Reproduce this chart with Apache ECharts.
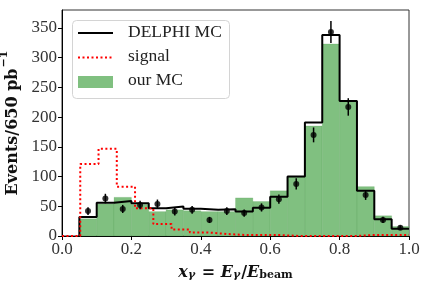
<!DOCTYPE html>
<html>
<head>
<meta charset="utf-8">
<script src="https://cdn.jsdelivr.net/npm/echarts@6/dist/echarts.min.js"></script>
<style>html,body{margin:0;padding:0;background:#fff;}#c{width:427px;height:289px;}</style>
</head>
<body>
<div id="c"></div>
<script>
// Bin edges for DELPHI MC / our MC / data (width 0.05)
var binEdges = [0.05,0.10,0.15,0.20,0.25,0.30,0.35,0.40,0.45,0.50,0.55,0.60,0.65,0.70,0.75,0.80,0.85,0.90,0.95,1.00];
var delphiMC = [32,56,59,55,46.6,49.4,46,44,45,41,47.7,66,100,191,338,227,76,28,12];
var ourMC    = [29,54,65,53,41,44,42.5,41,41,64,58,76,99,185,323,226,83,34,16];
var dataVals = [42,63,45.5,52,54,41,44,27,42,38.5,48,62,87.5,170,343,217,69,27,14];
var dataErr  = [6.5,8,6.8,7.2,7.3,6.4,6.6,5.2,6.5,6.2,6.9,7.9,9.4,12.5,18.5,14.7,8.3,5.2,3.8];
// Signal histogram (19 bins on [0,1])
var sigEdges = [0,0.0526,0.1053,0.1579,0.2105,0.2632,0.3158,0.3684,0.4211,0.4737,0.5263,0.5789,0.6316,0.6842,0.7368,0.7895,0.8421,0.8947,0.9474,1.0];
var signal   = [0,121,146.5,83,46.6,20,11,6,3.4,1.7,1.5,1.5,0,0,0,0,1.5,1.5,1.5];
var xTicks = [0,0.2,0.4,0.6,0.8,1.0];
var yTicks = [0,50,100,150,200,250,300,350];

function stepPath(edges, vals){
  var p = [[edges[0],0]];
  for (var i=0;i<vals.length;i++){ p.push([edges[i],vals[i]]); p.push([edges[i+1],vals[i]]); }
  return p;
}
var greenData = ourMC.map(function(v,i){return [binEdges[i],binEdges[i+1],v];});
var pts = dataVals.map(function(v,i){return [(binEdges[i]+binEdges[i+1])/2, v, dataErr[i]];});

var SERIF = '"Liberation Serif","DejaVu Serif",serif';
var WIDE = '"DejaVu Serif",serif';
var chart = echarts.init(document.getElementById('c'), null, {renderer:'canvas'});
chart.setOption({
  animation:false,
  grid:{left:62,right:18,top:10,bottom:53,containLabel:false,outerBoundsMode:'none',show:true,borderColor:'#333',borderWidth:1,backgroundColor:'transparent'},
  xAxis:{type:'value',min:0,max:1,interval:0.2,
    axisLine:{show:true,lineStyle:{color:'#000',width:1}},
    axisTick:{show:true,inside:false,length:4,lineStyle:{color:'#000'}},
    splitLine:{show:false},
    axisLabel:{color:'#333',fontFamily:SERIF,fontSize:17,margin:5,formatter:function(v){return v.toFixed(1);}},
    name:'{bi|x}{sub|γ}{b| = }{bi|E}{sub|γ}{b|/}{bi|E}{subb|beam}',
    nameLocation:'middle',nameGap:23,
    nameTextStyle:{rich:{
      bi:{fontFamily:WIDE,fontStyle:'italic',fontWeight:'bold',fontSize:16,color:'#111',verticalAlign:'bottom',lineHeight:22},
      b:{fontFamily:WIDE,fontWeight:'bold',fontSize:16,color:'#111',verticalAlign:'bottom',lineHeight:22},
      sub:{fontFamily:WIDE,fontStyle:'italic',fontWeight:'bold',fontSize:11,color:'#111',verticalAlign:'bottom',lineHeight:12,padding:[0,1,0,0]},
      subb:{fontFamily:WIDE,fontWeight:'bold',fontSize:11,color:'#111',verticalAlign:'bottom',lineHeight:12}
    }}
  },
  yAxis:{type:'value',min:0,max:380,interval:50,
    axisLine:{show:true,lineStyle:{color:'#000',width:1}},
    axisTick:{show:true,inside:false,length:4,lineStyle:{color:'#000'},customValues:yTicks},
    splitLine:{show:false},
    axisLabel:{color:'#333',fontFamily:SERIF,fontSize:17,margin:5,customValues:yTicks},
    name:'{b|Events/650 pb}{sup|−1}',
    nameLocation:'middle',nameGap:34,
    nameTextStyle:{rich:{
      b:{fontFamily:WIDE,fontWeight:'bold',fontSize:16,color:'#111',verticalAlign:'bottom',lineHeight:22},
      sup:{fontFamily:WIDE,fontWeight:'bold',fontSize:11,color:'#111',verticalAlign:'top',lineHeight:22,padding:[0,0,0,1]}
    }}
  },
  series:[
    {type:'custom',name:'our MC',data:greenData,z:1,
      renderItem:function(params,api){
        var a=api.coord([api.value(0),api.value(2)]);
        var b=api.coord([api.value(1),0]);
        return {type:'rect',shape:{x:a[0],y:a[1],width:b[0]-a[0],height:b[1]-a[1]},
          style:{fill:'#80c080',stroke:'rgba(60,140,60,0.35)',lineWidth:0.5}};
      }},
    {type:'line',name:'DELPHI MC',data:stepPath(binEdges,delphiMC),z:3,symbol:'none',
      lineStyle:{color:'#000',width:2},silent:true},
    {type:'line',name:'signal',data:stepPath(sigEdges,signal),z:4,symbol:'none',
      lineStyle:{color:'#ff0000',width:2,type:[2,2.5]},silent:true},
    {type:'custom',name:'err',data:pts,z:5,
      renderItem:function(params,api){
        var x=api.value(0),y=api.value(1),e=api.value(2);
        var t=api.coord([x,y+e]),b=api.coord([x,y-e]);
        return {type:'line',shape:{x1:t[0],y1:t[1],x2:b[0],y2:b[1]},style:{stroke:'#000',lineWidth:1.5}};
      }},
    {type:'scatter',name:'data',data:pts.map(function(p){return [p[0],p[1]];}),z:6,
      symbol:'circle',symbolSize:6,itemStyle:{color:'#000'}}
  ],
  graphic:[
    {type:'rect',left:72,top:20,z:100,shape:{width:157,height:78,r:4},
      style:{fill:'rgba(255,255,255,0.8)',stroke:'#d4d4d4',lineWidth:1}},
    {type:'line',z:101,shape:{x1:78,y1:33,x2:113,y2:33},style:{stroke:'#000',lineWidth:2}},
    {type:'text',z:101,left:128,top:23,style:{text:'DELPHI MC',font:'17.5px '+SERIF,fill:'#222'}},
    {type:'line',z:101,shape:{x1:78,y1:57.5,x2:113,y2:57.5},style:{stroke:'#ff0000',lineWidth:2,lineDash:[2,2.5]}},
    {type:'text',z:101,left:128,top:47,style:{text:'signal',font:'17.5px '+SERIF,fill:'#222'}},
    {type:'rect',z:101,left:78,top:76,shape:{width:35,height:12},style:{fill:'#80c080'}},
    {type:'text',z:101,left:128,top:71,style:{text:'our MC',font:'17.5px '+SERIF,fill:'#222'}}
  ]
});
</script>
</body>
</html>
